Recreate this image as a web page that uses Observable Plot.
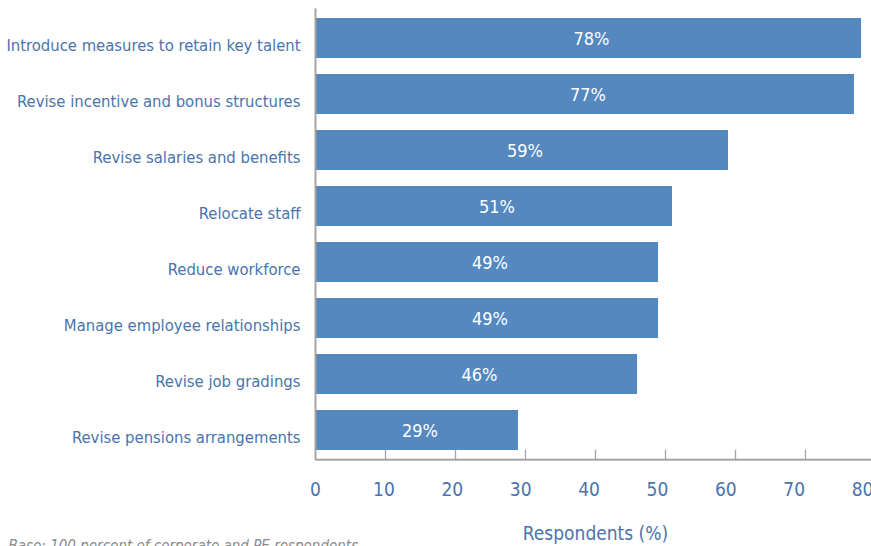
<!DOCTYPE html>
<html>
<head>
<meta charset="utf-8">
<script src="https://cdn.jsdelivr.net/npm/d3@7"></script>
<script src="https://cdn.jsdelivr.net/npm/@observablehq/plot@0.6"></script>
<style>
  html, body { margin: 0; padding: 0; background: #fff; overflow: hidden; }
  #chart svg { display: block; }
</style>
</head>
<body>
<div id="chart"></div>
<script>
const categories = [
  "Introduce measures to retain key talent",
  "Revise incentive and bonus structures",
  "Revise salaries and benefits",
  "Relocate staff",
  "Reduce workforce",
  "Manage employee relationships",
  "Revise job gradings",
  "Revise pensions arrangements"
];
const values = [78, 77, 59, 51, 49, 49, 46, 29];
const xTicks = [0, 10, 20, 30, 40, 50, 60, 70, 80];
const axisTitle = "Respondents (%)";
const caption = "Base: 100 percent of corporate and PE respondents";

const data = categories.map((c, i) => ({category: c, value: values[i]}));

const FONT = "'DejaVu Sans Condensed', 'Liberation Sans Narrow', sans-serif";
const BLUE_TEXT = "#4a74ad";
const BAR = "#5488bf";
const GREY = "#a3a3a3";

const W = 871, H = 546;
const frameTop = 8.5, frameBottom = 459.7;
const frameH = frameBottom - frameTop;

const chart = Plot.plot({
  width: W,
  height: H,
  marginTop: frameTop,
  marginBottom: H - frameBottom,
  marginLeft: 315,
  marginRight: 0,
  style: {fontFamily: FONT, background: "white", overflow: "visible"},
  x: {domain: [0, 80], range: [315, 875], axis: null},
  y: {domain: categories, paddingInner: 0.29, paddingOuter: 0.15, label: null},
  marks: [
    Plot.barX(data, {x: "value", y: "category", fill: BAR}),
    Plot.text(data, {
      x: d => d.value / 2, y: "category", text: d => d.value + "%",
      fill: "white", fontSize: 18, dx: 3, dy: 1
    }),
    Plot.axisY({tickSize: 0, tickPadding: 15, fontSize: 16.5, fill: BLUE_TEXT, label: null, dy: 7}),
    // inward tick marks
    Plot.ruleX(xTicks.slice(1), {x: d => d, insetTop: frameH - 10, stroke: GREY, strokeWidth: 1.3}),
    Plot.ruleX([0], {stroke: GREY, strokeWidth: 2}),
    Plot.rect([0], {x1: 0, x2: 80, insetTop: frameH - 1, insetBottom: -1, fill: GREY}),
    Plot.text(xTicks, {
      x: d => d * 0.977, frameAnchor: "bottom", dy: 36, text: d => String(d),
      fill: BLUE_TEXT, fontSize: 19
    }),
    Plot.text([40], {
      x: d => d, frameAnchor: "bottom", dy: 80, text: () => axisTitle,
      fill: BLUE_TEXT, fontSize: 19
    }),
    Plot.text([caption], {
      frameAnchor: "bottom-left", dx: -307, dy: 91, textAnchor: "start",
      text: d => d, fill: "#8a8a8a", fontSize: 15, fontStyle: "italic"
    })
  ]
});
document.getElementById("chart").append(chart);
</script>
</body>
</html>
